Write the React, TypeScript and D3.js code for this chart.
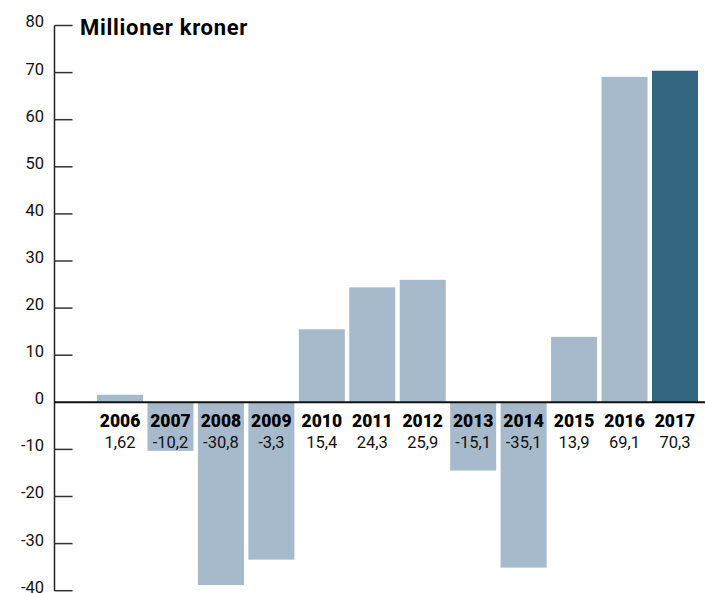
import React from 'react';
import * as d3 from 'd3';

const years = ['2006', '2007', '2008', '2009', '2010', '2011', '2012', '2013', '2014', '2015', '2016', '2017'];
const barValues = [1.6, -10.3, -38.8, -33.4, 15.5, 24.4, 26.0, -14.5, -35.1, 13.9, 69.1, 70.4];
const valueLabels = ['1,62', '-10,2', '-30,8', '-3,3', '15,4', '24,3', '25,9', '-15,1', '-35,1', '13,9', '69,1', '70,3'];
const yTicks = [-40, -30, -20, -10, 0, 10, 20, 30, 40, 50, 60, 70, 80];
const highlightYear = '2017';
const title = 'Millioner kroner';

const W = 705;
const H = 593;
const FONT = 'Roboto, "Noto Sans", sans-serif';

export default function App() {
  const y = d3.scaleLinear().domain([-40, 80]).range([590.7, 25.5]);
  const x = d3
    .scaleBand<string>()
    .domain(years)
    .range([94.8, 700.2])
    .paddingInner(0.088)
    .paddingOuter(0.044);
  const axisX = 54.5;
  const y0 = y(0);

  return (
    <svg width={W} height={H} style={{ position: 'absolute', left: 0, top: 0, background: '#fff' }}>
      {years.map((yr, i) => {
        const v = barValues[i];
        const top = Math.min(y(v), y0);
        const h = Math.abs(y(v) - y0);
        return (
          <rect
            key={yr}
            x={x(yr)}
            y={top}
            width={x.bandwidth()}
            height={h}
            fill={yr === highlightYear ? '#316580' : '#a7bacb'}
          />
        );
      })}
      {/* y axis */}
      <line x1={axisX} x2={axisX} y1={y(80)} y2={y(-40)} stroke="#222" strokeWidth={1.5} />
      {yTicks.map((t) => (
        <g key={t}>
          {t !== 0 && (
            <line x1={axisX} x2={72.5} y1={y(t)} y2={y(t)} stroke="#333" strokeWidth={1.5} />
          )}
          <text
            x={44}
            y={y(t)}
            dy="0.12em"
            textAnchor="end"
            fontFamily={FONT}
            fontSize={16.5}
            fill="#111"
          >
            {t}
          </text>
        </g>
      ))}
      {/* zero line */}
      <line x1={axisX} x2={W} y1={y0} y2={y0} stroke="#111" strokeWidth={2} />
      {years.map((yr, i) => {
        const cx = (x(yr) as number) + x.bandwidth() / 2;
        return (
          <g key={'l' + yr}>
            <text x={cx} y={426.5} textAnchor="middle" fontFamily={FONT} fontWeight={900} fontSize={17.5} fill="#000">
              {yr}
            </text>
            <text x={cx} y={448} textAnchor="middle" fontFamily={FONT} fontSize={16.5} fill="#111">
              {valueLabels[i]}
            </text>
          </g>
        );
      })}
      <text x={80} y={35} fontFamily={FONT} fontWeight={700} fontSize={22} letterSpacing={0.7} fill="#000">
        {title}
      </text>
    </svg>
  );
}
